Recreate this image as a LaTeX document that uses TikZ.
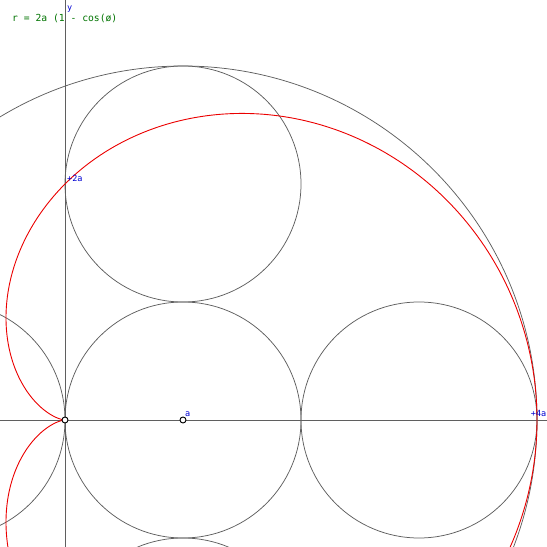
\documentclass[tikz,border=0pt]{standalone}
\usepackage{fontspec}
\setmonofont{DejaVu Sans Mono}
\begin{document}
\begin{tikzpicture}[x=1pt,y=1pt,
  axis/.style={draw=axisgray,line width=0.9pt},
  circ/.style={draw=axisgray,line width=0.75pt},
  curve/.style={draw=curvered,line width=0.9pt},
  marker/.style={circle,draw=black,fill=white,line width=0.9pt,inner sep=0pt,minimum size=6pt},
  lbl/.style={text=lblblue,font=\ttfamily\fontsize{8.5}{8.5}\selectfont,inner sep=0pt,anchor=base west},
  formula/.style={text=formgreen,font=\ttfamily\fontsize{9.7}{9.7}\selectfont,inner sep=0pt,anchor=base west}]
\definecolor{axisgray}{RGB}{95,95,95}
\definecolor{curvered}{RGB}{235,0,0}
\definecolor{lblblue}{RGB}{0,0,210}
\definecolor{formgreen}{RGB}{0,115,0}
\useasboundingbox (-65,-127) rectangle (482,420);
\clip (-65,-127) rectangle (482,420);
% axes
\coordinate (xl) at (-65,0);
\coordinate (xr) at (482,0);
\coordinate (yb) at (0,-127);
\coordinate (yt) at (0,420);
\draw[axis] (xl) -- (xr);
\draw[axis] (yb) -- (yt);
% circles
\coordinate (c1) at (118,0);
\coordinate (c2) at (354,0);
\coordinate (c3) at (118,236);
\coordinate (c4) at (-118,0);
\coordinate (c5) at (118,-236);
\draw[circ] (c1) circle[radius=118];
\draw[circ] (c2) circle[radius=118];
\draw[circ] (c3) circle[radius=118];
\draw[circ] (c4) circle[radius=118];
\draw[circ] (c5) circle[radius=118];
\draw[circ] (c1) circle[radius=354];
% cardioid
\draw[curve] plot[domain=0:360,samples=361,smooth] ({236*(1+cos(\x))*cos(\x)},{236*(1+cos(\x))*sin(\x)});
% markers
\node[marker] (O) at (0,0) {};
\node[marker] (A) at (118,0) {};
% labels
\node[formula] (f) at (-53,398) {r = 2a (1 - cos(ø)};
\node[lbl] (ly) at (2,409) {y};
\node[lbl] (l2a) at (2,239) {+2a};
\node[lbl] (la) at (120,4) {a};
\node[lbl,anchor=base east] (l4a) at (481.5,4) {+4a};
\end{tikzpicture}
\end{document}
